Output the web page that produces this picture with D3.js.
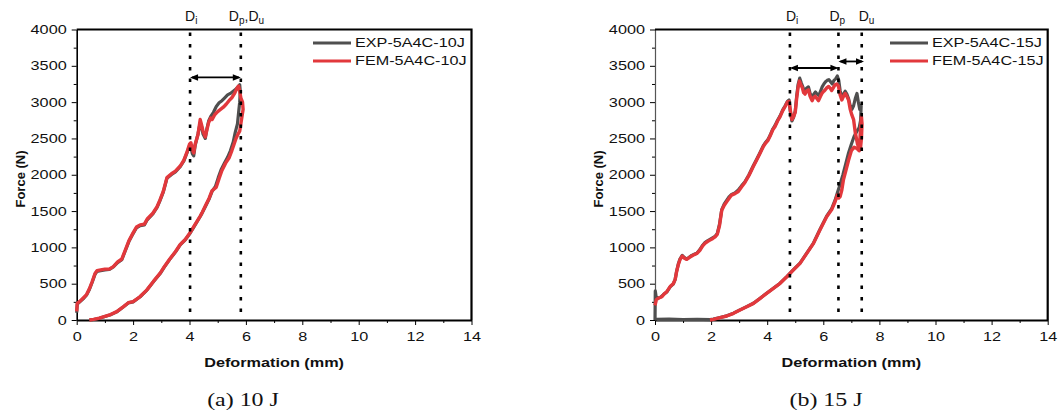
<!DOCTYPE html>
<html>
<head>
<meta charset="utf-8">
<script src="https://cdn.jsdelivr.net/npm/d3@7"></script>
<style>
  body { margin: 0; background: #fff; }
  svg { display: block; }
</style>
</head>
<body>
<script>
// data: [deformation mm, force N]
const exp10 = [[0,100],[0.02,220],[0.12,255],[0.25,300],[0.35,345],[0.45,420],[0.55,520],[0.65,630],[0.72,670],[0.85,680],[1.0,690],[1.15,695],[1.3,730],[1.45,790],[1.6,830],[1.72,950],[1.85,1080],[2.0,1190],[2.12,1270],[2.25,1300],[2.4,1310],[2.5,1380],[2.7,1460],[2.85,1550],[2.95,1640],[3.07,1760],[3.2,1950],[3.35,2000],[3.5,2040],[3.67,2110],[3.8,2190],[3.9,2290],[4.0,2400],[4.05,2380],[4.1,2290],[4.15,2260],[4.2,2400],[4.3,2560],[4.38,2720],[4.42,2680],[4.48,2560],[4.56,2500],[4.62,2640],[4.68,2740],[4.75,2800],[4.85,2860],[4.95,2940],[5.05,2990],[5.15,3020],[5.25,3060],[5.35,3100],[5.45,3120],[5.55,3150],[5.65,3180],[5.72,3210],[5.78,3240],[5.8,3150],[5.78,3000],[5.74,2850],[5.7,2700],[5.62,2580],[5.55,2450],[5.45,2330],[5.35,2240],[5.25,2170],[5.12,2070],[5.02,1960],[4.92,1840],[4.8,1770],[4.7,1670],[4.56,1560],[4.45,1475],[4.38,1425],[4.2,1310],[4.02,1195],[3.85,1105],[3.67,1035],[3.5,935],[3.3,835],[3.1,725],[2.96,640],[2.72,527],[2.49,412],[2.25,320],[2.0,250],[1.83,235],[1.66,182],[1.42,112],[1.2,72],[1.0,48],[0.8,23],[0.6,7],[0.45,0]];
const fem10 = [[0,120],[0.02,230],[0.12,260],[0.25,310],[0.35,350],[0.45,430],[0.55,530],[0.65,640],[0.72,680],[0.85,690],[1.0,700],[1.15,700],[1.3,735],[1.45,800],[1.6,840],[1.72,960],[1.85,1090],[2.0,1200],[2.12,1280],[2.25,1310],[2.4,1320],[2.5,1390],[2.7,1470],[2.85,1560],[2.95,1650],[3.07,1770],[3.2,1960],[3.35,2010],[3.5,2050],[3.67,2120],[3.8,2200],[3.9,2300],[4.0,2420],[4.05,2440],[4.1,2350],[4.15,2300],[4.2,2420],[4.3,2550],[4.38,2760],[4.42,2700],[4.48,2600],[4.56,2520],[4.62,2620],[4.68,2720],[4.75,2780],[4.8,2760],[4.9,2830],[5.0,2870],[5.1,2900],[5.2,2930],[5.3,2970],[5.4,3020],[5.5,3060],[5.6,3120],[5.68,3190],[5.74,3220],[5.78,3150],[5.82,3060],[5.88,3000],[5.9,2900],[5.86,2800],[5.82,2700],[5.78,2600],[5.72,2560],[5.65,2500],[5.58,2420],[5.5,2330],[5.4,2230],[5.28,2160],[5.15,2060],[5.05,1950],[4.95,1830],[4.8,1780],[4.7,1680],[4.56,1570],[4.45,1480],[4.38,1430],[4.2,1316],[4.02,1200],[3.85,1108],[3.67,1040],[3.5,940],[3.3,840],[3.1,730],[2.96,646],[2.72,531],[2.49,415],[2.25,323],[2.0,254],[1.83,238],[1.66,185],[1.42,115],[1.2,75],[1.0,50],[0.8,25],[0.6,8],[0.45,0]];

const exp15 = [[0,0],[0.01,400],[0.04,320],[0.1,300],[0.2,315],[0.3,350],[0.42,385],[0.54,455],[0.65,495],[0.72,560],[0.77,670],[0.83,770],[0.89,840],[0.97,890],[1.05,860],[1.13,840],[1.22,865],[1.31,890],[1.4,905],[1.49,920],[1.6,970],[1.7,1030],[1.78,1065],[1.87,1090],[1.96,1110],[2.05,1130],[2.14,1150],[2.22,1190],[2.3,1320],[2.38,1520],[2.47,1600],[2.56,1650],[2.65,1700],[2.73,1730],[2.85,1750],[2.97,1790],[3.09,1850],[3.2,1900],[3.35,2000],[3.5,2120],[3.62,2210],[3.75,2310],[3.85,2390],[3.93,2440],[4.02,2480],[4.1,2540],[4.2,2630],[4.28,2680],[4.37,2750],[4.46,2810],[4.55,2890],[4.64,2950],[4.72,3010],[4.78,3030],[4.82,2880],[4.88,2740],[4.94,2790],[5.0,2880],[5.05,3080],[5.1,3240],[5.16,3330],[5.22,3260],[5.28,3200],[5.34,3150],[5.4,3190],[5.47,3210],[5.53,3120],[5.6,3060],[5.66,3110],[5.72,3140],[5.78,3110],[5.84,3090],[5.9,3150],[5.96,3210],[6.02,3250],[6.08,3280],[6.14,3300],[6.2,3310],[6.26,3280],[6.32,3250],[6.38,3300],[6.44,3320],[6.5,3360],[6.55,3300],[6.6,3160],[6.66,3060],[6.72,3110],[6.78,3150],[6.84,3110],[6.9,3050],[6.96,2950],[7.02,2900],[7.08,2950],[7.14,3050],[7.2,3120],[7.25,3000],[7.3,2900],[7.35,2950],[7.33,2750],[7.28,2650],[7.2,2600],[7.1,2530],[7.0,2420],[6.9,2300],[6.8,2150],[6.7,2000],[6.6,1870],[6.5,1750],[6.42,1650],[6.3,1535],[6.12,1430],[5.88,1245],[5.65,1060],[5.41,920],[5.17,783],[4.93,690],[4.7,598],[4.46,507],[4.22,438],[3.98,369],[3.75,300],[3.51,231],[3.27,185],[3.03,140],[2.8,94],[2.56,57],[2.32,34],[2.08,12],[1.96,6],[1.5,10],[1.0,7],[0.5,12],[0.05,9]];
const fem15 = [[0,200],[0.05,280],[0.12,300],[0.24,320],[0.33,360],[0.42,390],[0.54,460],[0.65,500],[0.72,560],[0.77,665],[0.83,760],[0.89,830],[0.97,880],[1.05,850],[1.13,835],[1.22,860],[1.31,880],[1.4,900],[1.49,915],[1.6,960],[1.7,1020],[1.78,1055],[1.87,1080],[1.96,1100],[2.05,1120],[2.14,1145],[2.22,1180],[2.3,1300],[2.38,1510],[2.47,1580],[2.56,1630],[2.65,1680],[2.73,1720],[2.85,1740],[2.97,1770],[3.09,1835],[3.2,1890],[3.35,1990],[3.5,2110],[3.62,2200],[3.75,2300],[3.85,2380],[3.93,2430],[4.02,2470],[4.1,2530],[4.2,2620],[4.28,2665],[4.37,2740],[4.46,2800],[4.55,2880],[4.64,2940],[4.72,3000],[4.78,3010],[4.82,2900],[4.88,2760],[4.94,2800],[5.0,2860],[5.05,3050],[5.1,3200],[5.15,3290],[5.2,3240],[5.25,3200],[5.3,3130],[5.35,3110],[5.4,3150],[5.47,3170],[5.53,3080],[5.6,3020],[5.65,3060],[5.71,3080],[5.77,3050],[5.83,3020],[5.9,3080],[5.95,3120],[6.02,3150],[6.07,3170],[6.13,3200],[6.19,3215],[6.25,3190],[6.3,3160],[6.36,3200],[6.42,3240],[6.48,3250],[6.54,3220],[6.6,3100],[6.66,3030],[6.72,3080],[6.78,3120],[6.84,3080],[6.9,3030],[6.96,2900],[7.02,2820],[7.08,2760],[7.14,2580],[7.18,2500],[7.22,2420],[7.27,2380],[7.3,2450],[7.33,2650],[7.36,2800],[7.38,2700],[7.36,2500],[7.33,2380],[7.28,2330],[7.2,2360],[7.1,2380],[7.0,2330],[6.9,2200],[6.8,2050],[6.72,1935],[6.66,1790],[6.6,1700],[6.55,1680],[6.5,1720],[6.42,1628],[6.3,1520],[6.12,1422],[5.88,1239],[5.65,1055],[5.41,917],[5.17,780],[4.93,688],[4.7,596],[4.46,505],[4.22,436],[3.98,367],[3.75,298],[3.51,229],[3.27,183],[3.03,138],[2.8,92],[2.56,55],[2.32,32],[2.08,9],[1.96,0]];

const xTicks = [0, 2, 4, 6, 8, 10, 12, 14];
const yTicks = [0, 500, 1000, 1500, 2000, 2500, 3000, 3500, 4000];
const legend10 = ['EXP-5A4C-10J', 'FEM-5A4C-10J'];
const legend15 = ['EXP-5A4C-15J', 'FEM-5A4C-15J'];
// characteristic deformations (mm)
const marks10 = {Di: 4.02, Dp: 5.82};
const marks15 = {Di: 4.81, Dp: 6.54, Du: 7.37};
// arrow heights (N)
const arrows10 = [[4.02, 5.82, 3340]];
const arrows15 = [[4.81, 6.54, 3470], [6.54, 7.45, 3560]];

const W = 1058, H = 416;
const svg = d3.select('body').append('svg')
  .attr('width', W)
  .attr('height', H);

const grayCol = '#4f4f4f', redCol = '#e2383c';
const sans = 'Liberation Sans, Arial, sans-serif';

// text in the figure is stretched horizontally
function stretch(sel, k) {
  sel.attr('transform', function() {
    const x = +this.getAttribute('x') || 0;
    return `translate(${x * (1 - k)},0) scale(${k},1)`;
  });
}

function panel(opt) {
  const x = d3.scaleLinear().domain([0, 14]).range([opt.left, opt.right]);
  const y = d3.scaleLinear().domain([0, 4000]).range([320, 29.5]);
  const g = svg.append('g');

  // minor ticks
  g.append('g')
    .attr('transform', `translate(0,320)`)
    .call(d3.axisBottom(x).tickValues(d3.range(1, 14, 2)).tickSize(3).tickFormat(''))
    .call(a => a.select('.domain').remove());
  g.append('g')
    .attr('transform', `translate(${opt.left},0)`)
    .call(d3.axisLeft(y).tickValues(d3.range(250, 4000, 500)).tickSize(3).tickFormat(''))
    .call(a => a.select('.domain').remove());

  const xAxis = g.append('g')
    .attr('transform', `translate(0,320)`)
    .call(d3.axisBottom(x).tickValues(xTicks).tickSize(5).tickPadding(7).tickSizeOuter(0).tickFormat(d3.format('d')));
  xAxis.select('.domain').attr('stroke-width', 2);
  xAxis.selectAll('text').style('font', `12.5px ${sans}`).attr('fill', '#111').call(stretch, 1.3);

  const yAxis = g.append('g')
    .attr('transform', `translate(${opt.left},0)`)
    .call(d3.axisLeft(y).tickValues(yTicks).tickSize(5).tickPadding(5).tickSizeOuter(0).tickFormat(d3.format('d')));
  yAxis.select('.domain').attr('stroke', opt.yAxisCol).attr('stroke-width', opt.yAxisW);
  yAxis.selectAll('text').style('font', `12.5px ${sans}`).attr('fill', '#111').call(stretch, 1.3);

  // top and right frame
  g.append('path')
    .attr('d', `M${opt.left},${y(4000)}H${opt.right}V320`)
    .attr('fill', 'none').attr('stroke', '#000').attr('stroke-width', 2.2);

  // curves
  const line = d3.line().x(d => x(d[0])).y(d => y(d[1])).curve(d3.curveLinear);
  g.append('path').datum(opt.exp).attr('d', line)
    .attr('fill', 'none').attr('stroke', grayCol).attr('stroke-width', 3.2)
    .attr('stroke-linejoin', 'round');
  g.append('path').datum(opt.fem).attr('d', line)
    .attr('fill', 'none').attr('stroke', redCol).attr('stroke-width', 3.4)
    .attr('stroke-linejoin', 'round');

  // dotted marker lines
  Object.values(opt.marks).forEach(v => {
    g.append('line')
      .attr('x1', x(v)).attr('x2', x(v))
      .attr('y1', y(3960)).attr('y2', 320)
      .attr('stroke', '#000').attr('stroke-width', 2.6)
      .attr('stroke-dasharray', '3.5,8');
  });

  // double arrows
  opt.arrows.forEach(([a, b, f]) => {
    const x1 = x(a), x2 = x(b), yy = y(f);
    g.append('line').attr('x1', x1 + 2).attr('x2', x2 - 2).attr('y1', yy).attr('y2', yy)
      .attr('stroke', '#000').attr('stroke-width', 1.8);
    g.append('path').attr('d', `M${x1},${yy}l8,-3.2v6.4z`).attr('fill', '#000');
    g.append('path').attr('d', `M${x2},${yy}l-8,-3.2v6.4z`).attr('fill', '#000');
  });

  // D labels
  opt.labels.forEach(l => {
    const t = g.append('text')
      .attr('x', x(l.at) + l.dx).attr('y', 21)
      .style('font', `14px ${sans}`).attr('fill', '#111');
    l.parts.forEach(p => {
      t.append('tspan').text(p[0]);
      t.append('tspan').attr('dy', 3).style('font-size', '10px').text(p[1]);
      t.append('tspan').attr('dy', -3).text(p[2] || '');
    });
  });

  // legend
  opt.legend.forEach((name, i) => {
    const ly = 43 + i * 18;
    g.append('line')
      .attr('x1', opt.legX).attr('x2', opt.legX + 38)
      .attr('y1', ly).attr('y2', ly)
      .attr('stroke', i ? redCol : grayCol).attr('stroke-width', i ? 3.2 : 3);
    g.append('text')
      .attr('x', opt.legX + 42).attr('y', ly + 4.5)
      .style('font', `12px ${sans}`).attr('fill', '#111')
      .text(name).call(stretch, 1.35);
  });

  // axis titles
  g.append('text')
    .attr('x', (opt.left + opt.right) / 2).attr('y', 367)
    .attr('text-anchor', 'middle')
    .style('font', `bold 12.5px ${sans}`).attr('fill', '#111')
    .text('Deformation (mm)').call(stretch, 1.3);
  g.append('text')
    .attr('transform', `translate(${opt.left - 52},179) rotate(-90)`)
    .attr('text-anchor', 'middle')
    .style('font', `bold 13px ${sans}`).attr('fill', '#111')
    .text('Force (N)');

  // caption
  g.append('text')
    .attr('x', opt.capX).attr('y', 406)
    .attr('text-anchor', 'middle')
    .style('font', '18px Liberation Serif, Times New Roman, serif').attr('fill', '#111')
    .text(opt.caption).call(stretch, 1.33);
}

panel({
  left: 76.7, right: 471.5, exp: exp10, fem: fem10,
  marks: marks10, arrows: arrows10, legend: legend10, legX: 313,
  yAxisCol: '#000', yAxisW: 1.6, capX: 243, caption: '(a) 10 J',
  labels: [
    {at: marks10.Di, dx: -5, parts: [['D', 'i']]},
    {at: marks10.Dp, dx: -12, parts: [['D', 'p', ','], ['D', 'u']]}
  ]
});

panel({
  left: 655, right: 1047.7, exp: exp15, fem: fem15,
  marks: marks15, arrows: arrows15, legend: legend15, legX: 890,
  yAxisCol: '#555', yAxisW: 1.2, capX: 826, caption: '(b) 15 J',
  labels: [
    {at: marks15.Di, dx: -4, parts: [['D', 'i']]},
    {at: marks15.Dp, dx: -9, parts: [['D', 'p']]},
    {at: marks15.Du, dx: -3, parts: [['D', 'u']]}
  ]
});
</script>
</body>
</html>
